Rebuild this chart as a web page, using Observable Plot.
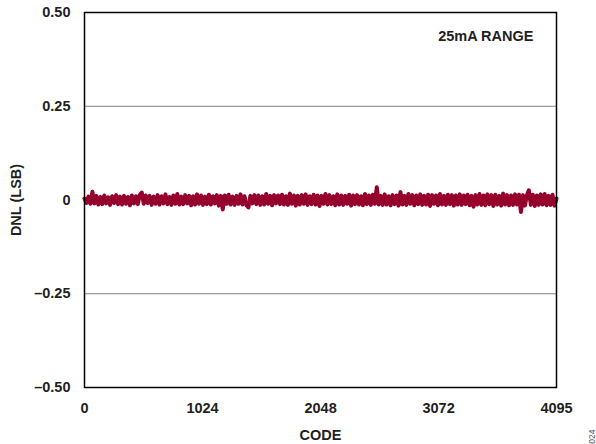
<!DOCTYPE html>
<html>
<head>
<meta charset="utf-8">
<script src="https://cdn.jsdelivr.net/npm/d3@7"></script>
<script src="https://cdn.jsdelivr.net/npm/@observablehq/plot@0.6"></script>
<style>
  html, body { margin: 0; padding: 0; background: #fff; }
  #chart svg { display: block; }
</style>
</head>
<body>
<div id="chart"></div>
<script>
// DNL readings (LSB), sampled evenly across codes 0..4095
const dnl = [
  0.004,-0.008,0.009,-0.010,0.022,-0.009,0.011,-0.012,0.008,-0.011,
  0.012,-0.009,0.007,-0.013,0.010,-0.008,0.013,-0.011,0.009,-0.012,
  0.011,-0.010,0.008,-0.014,0.012,-0.009,0.010,-0.011,0.014,0.020,
  -0.010,0.012,-0.008,0.011,-0.013,0.009,-0.010,0.013,-0.012,0.010,
  -0.009,0.015,-0.011,0.008,-0.013,0.012,-0.010,0.016,-0.012,0.009,
  -0.011,0.013,-0.009,0.011,-0.014,0.010,-0.012,0.015,-0.010,0.012,
  -0.013,0.009,-0.011,0.014,-0.012,0.010,-0.009,0.013,-0.015,0.011,
  -0.025,0.012,-0.010,0.014,-0.012,0.009,-0.013,0.011,-0.010,0.015,
  -0.012,0.010,-0.014,-0.020,0.011,-0.009,0.013,-0.011,0.012,-0.013,
  0.010,-0.012,0.016,-0.010,0.011,-0.014,0.013,-0.009,0.012,-0.011,
  0.014,-0.012,0.010,-0.013,0.017,-0.010,0.012,-0.015,0.011,-0.012,
  0.013,-0.010,0.015,-0.013,0.010,-0.011,0.014,-0.012,0.012,-0.016,
  0.011,-0.010,0.016,-0.012,0.013,-0.011,0.010,-0.014,0.015,-0.012,
  0.012,-0.013,0.011,-0.010,0.014,-0.015,0.012,-0.011,0.013,-0.012,
  0.010,-0.014,0.016,-0.011,0.012,-0.013,0.014,-0.010,0.034,-0.012,
  0.011,-0.013,0.015,-0.012,0.010,-0.014,0.013,-0.011,0.012,-0.015,
  0.021,-0.012,0.011,-0.013,0.016,-0.010,0.013,-0.014,0.012,-0.011,
  0.015,-0.013,0.011,-0.012,0.014,-0.016,0.013,-0.010,0.012,-0.014,
  0.016,-0.012,0.011,-0.013,0.014,-0.011,0.013,-0.015,0.012,-0.012,
  0.015,-0.013,0.012,-0.011,0.014,-0.014,0.011,-0.018,0.013,-0.012,
  0.016,-0.013,0.012,-0.014,0.015,-0.011,0.013,-0.016,0.014,-0.012,
  0.011,-0.015,0.017,-0.012,0.013,-0.014,0.012,-0.013,0.015,-0.012,
  0.014,-0.032,0.013,-0.015,0.012,0.026,-0.013,0.014,-0.016,0.012,
  -0.013,0.015,-0.012,0.016,-0.014,0.011,-0.013,0.014,-0.015,0.004
];
const codeMax = 4095;
const xTicks = [0, 1024, 2048, 3072, 4095];
const yTicks = [-0.5, -0.25, 0, 0.25, 0.5];
const yTickLabels = ["\u20130.50", "\u20130.25", "0", "0.25", "0.50"];
const gridValues = [-0.25, 0.25];
const rangeLabel = ["25mA RANGE"];
const figureId = ["024"];

const step = codeMax / (dnl.length - 1);
const data = dnl.map((v, i) => ({code: i * step, dnl: v}));

const font = "'Liberation Sans', Arial, sans-serif";
const chart = Plot.plot({
  width: 596,
  height: 444,
  marginLeft: 84,
  marginRight: 40,
  marginTop: 12,
  marginBottom: 57,
  style: {fontFamily: font, fontSize: "14.5px", fontWeight: "bold", color: "#231f20", background: "#fff", overflow: "visible"},
  x: {domain: [0, codeMax]},
  y: {domain: [-0.5, 0.5]},
  marks: [
    Plot.ruleY(gridValues, {stroke: "#808080", strokeWidth: 1}),
    Plot.lineY(data, {x: "code", y: "dnl", stroke: "#96002c", strokeWidth: 4, strokeLinejoin: "round"}),
    Plot.frame({stroke: "#000", strokeWidth: 1.5}),
    Plot.axisX({ticks: xTicks, tickSize: 0, tickPadding: 15, tickFormat: d => String(d),
      label: "CODE", labelAnchor: "center", labelArrow: "none", labelOffset: 52}),
    Plot.axisY({ticks: yTicks, tickSize: 0, tickPadding: 14,
      tickFormat: d => yTickLabels[yTicks.indexOf(d)],
      label: "DNL (LSB)", labelAnchor: "center", labelArrow: "none", labelOffset: 74}),
    Plot.text(rangeLabel, {frameAnchor: "top-right", dx: -23, dy: 24, lineAnchor: "middle", fontSize: 14.5, fill: "#231f20"}),
    Plot.text(figureId, {frameAnchor: "bottom-right", dx: 36, dy: 42, rotate: -90, fontSize: 8.5, fontWeight: "normal", fill: "#555", lineAnchor: "middle"})
  ]
});
document.getElementById("chart").appendChild(chart);
</script>
</body>
</html>
